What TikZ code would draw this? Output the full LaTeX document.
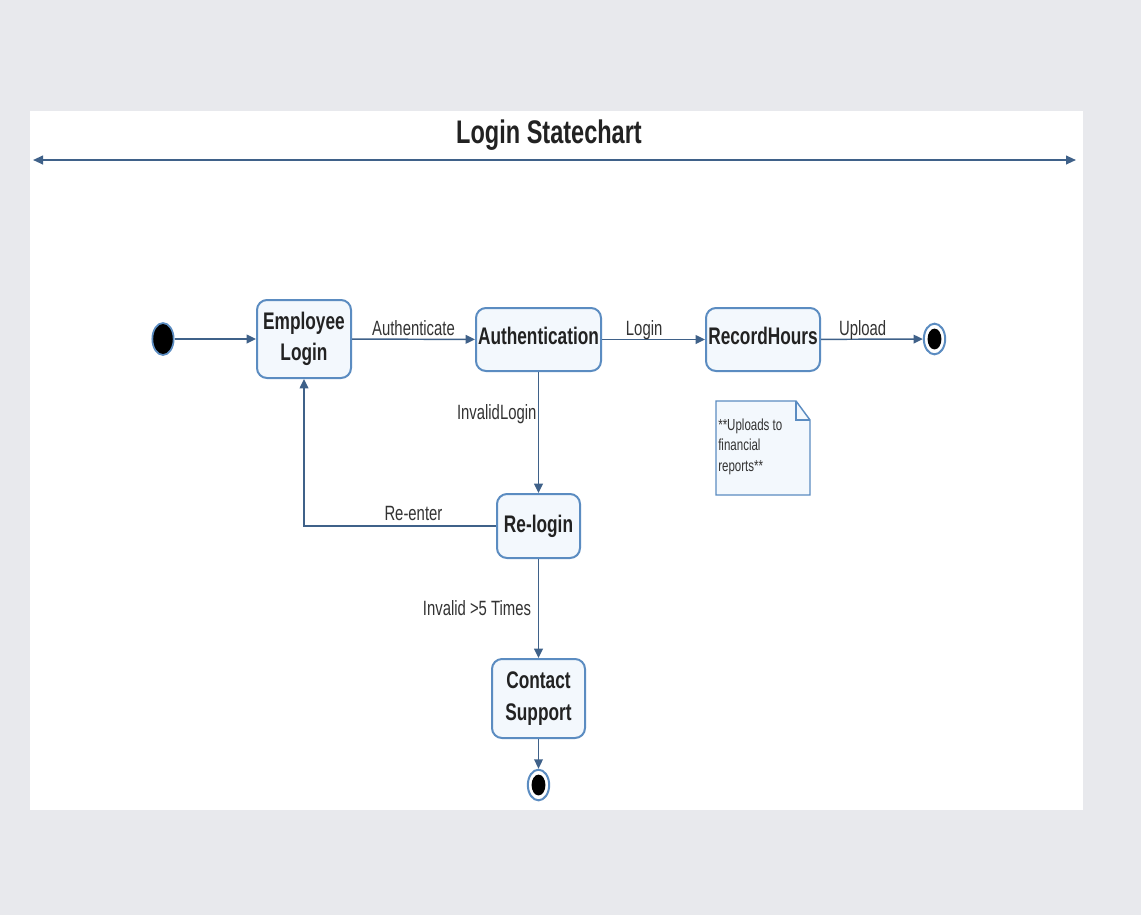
\documentclass[tikz,border=0pt]{standalone}
\usepackage{fontspec}
\setmainfont{Liberation Sans}
\newfontfamily\nar[FakeStretch=0.72]{Liberation Sans}
\usetikzlibrary{arrows.meta,shapes.geometric}
\definecolor{bggray}{HTML}{E8E9ED}
\definecolor{edgeblue}{HTML}{3F6189}
\definecolor{boxblue}{HTML}{5B8CC1}
\definecolor{boxfill}{HTML}{F3F8FD}
\definecolor{txt}{HTML}{222222}
\definecolor{lbltxt}{HTML}{333333}
\tikzset{
  state/.style={draw=boxblue, fill=boxfill, line width=1.5pt, rounded corners=7.5pt,
    inner sep=0pt, align=center, text=txt, font=\nar\bfseries\fontsize{18}{23}\selectfont},
  conn/.style={draw=edgeblue, line width=1.1pt, -{Triangle[length=7pt,width=6.5pt]}},
  lbl/.style={text=lbltxt, font=\nar\fontsize{15.5}{18}\selectfont, inner sep=1pt},
  initstate/.style={ellipse, draw=boxblue, fill=black, line width=1.3pt,
    minimum width=16pt, minimum height=24pt, inner sep=0pt},
  finalstate/.style={ellipse, draw=boxblue, fill=white, line width=1.5pt,
    minimum width=16pt, minimum height=23pt, inner sep=0pt,
    path picture={\fill[black] (path picture bounding box.center) ellipse [x radius=5.2pt, y radius=7.8pt];}},
}
\begin{document}
\begin{tikzpicture}[x=0.75pt,y=-0.75pt]
\useasboundingbox (0,0) rectangle (1141,915);
\fill[bggray] (0,0) rectangle (1141,915);
\fill[white] (30,111) rectangle (1083,810);

\node[text=txt, font=\nar\bfseries\fontsize{24.5}{28}\selectfont] (title) at (549,135.5) {Login Statechart};
\coordinate (hl) at (33,160);
\coordinate (hr) at (1076,160);
\draw[draw=edgeblue, line width=1.4pt, {Triangle[length=7.5pt,width=6.5pt]}-{Triangle[length=7.5pt,width=6.5pt]}] (hl) -- (hr);

\node[initstate] (init) at (163,339) {};
\node[state, minimum width=70.5pt, minimum height=58.5pt] (emp) at (304,339) {Employee\\Login};
\node[state, minimum width=93.75pt, minimum height=47.25pt, text depth=5pt] (auth) at (538.5,339.5) {Authentication};
\node[state, minimum width=85.5pt, minimum height=47.25pt, text depth=5pt] (rec) at (763,339.5) {RecordHours};
\node[finalstate] (fin1) at (934.5,339) {};
\node[state, minimum width=62.25pt, minimum height=48pt] (relog) at (538.5,526) {Re-login};
\node[state, minimum width=69.75pt, minimum height=59.25pt, font=\nar\bfseries\fontsize{18}{24}\selectfont] (contact) at (538.5,698.5) {Contact\\Support};
\node[finalstate] (fin2) at (538.5,785) {};

% note
\draw[draw=boxblue, fill=boxfill, line width=1.1pt] (716,401) -- (796,401) -- (810,420) -- (810,495) -- (716,495) -- cycle;
\draw[draw=boxblue, line width=0.8pt] (796,401) -- (796,420) -- (810,420);
\node[anchor=north west, align=left, text=lbltxt, inner sep=0pt, font=\nar\fontsize{12}{15.4}\selectfont] (note) at (718,418.5) {**Uploads to\\financial\\reports**};

% connectors
\draw[conn] (init) -- (emp);
\draw[conn] (emp) -- node[lbl, anchor=base, yshift=3pt] {Authenticate} (auth);
\draw[conn] (auth) -- node[lbl, anchor=base, yshift=3pt, xshift=-7pt] {Login} (rec);
\draw[conn] (rec) -- node[lbl, anchor=base, yshift=3pt, xshift=-7pt] {Upload} (fin1);
\draw[conn] (auth) -- node[lbl, anchor=east, pos=0.35] {InvalidLogin} (relog);
\draw[conn] (relog.west) -| node[lbl, anchor=base, pos=0.215, yshift=4.5pt] {Re-enter} (emp.south);
\draw[conn] (relog) -- node[lbl, anchor=east, pos=0.5, xshift=-4pt] {Invalid >5 Times} (contact);
\draw[conn] (contact) -- (fin2);
\end{tikzpicture}
\end{document}
